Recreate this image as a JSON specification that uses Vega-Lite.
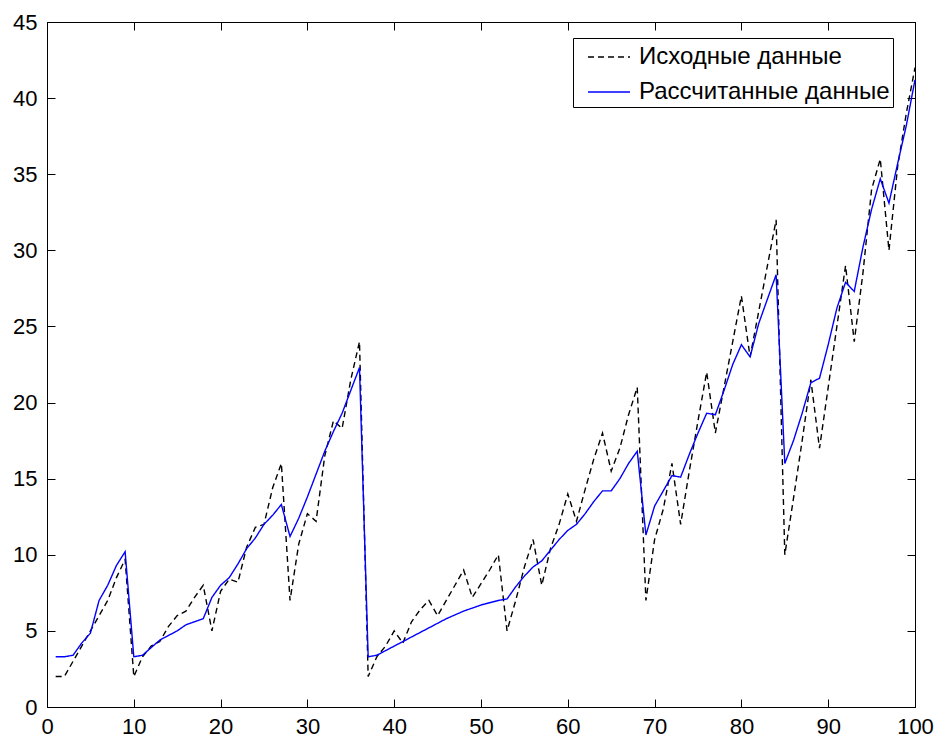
{
  "$schema": "https://vega.github.io/schema/vega-lite/v6.json",
  "width": 868,
  "height": 685,
  "autosize": {"type": "none"},
  "padding": {"left": 47, "top": 22, "right": 25, "bottom": 35},
  "background": "white",
  "config": {
    "view": {"stroke": "black", "strokeWidth": 1},
    "axis": {
      "domainColor": "black", "domainWidth": 1, "tickColor": "black", "tickWidth": 1,
      "tickSize": -8, "labelColor": "black", "labelFont": "Liberation Sans", "labelFontSize": 22,
      "grid": false, "title": null, "labelFlush": false, "labelOverlap": false
    },
    "legend": {
      "title": null, "orient": "none", "legendX": 526, "legendY": 16,
      "strokeColor": "black", "fillColor": "white", "padding": 3,
      "symbolType": "M-1.4,0H1.4", "symbolSize": 900, "symbolStrokeWidth": 1.4, "symbolOffset": 17,
      "labelFont": "Liberation Sans", "labelFontSize": 24, "labelColor": "black", "labelLimit": 0,
      "labelOffset": 14, "rowPadding": 7, "cornerRadius": 0
    }
  },
  "data": {"values": [
    {"x":1,"y":2,"s":"Исходные данные"},{"x":2,"y":2,"s":"Исходные данные"},{"x":3,"y":3,"s":"Исходные данные"},{"x":4,"y":4,"s":"Исходные данные"},{"x":5,"y":5,"s":"Исходные данные"},
    {"x":6,"y":6,"s":"Исходные данные"},{"x":7,"y":7,"s":"Исходные данные"},{"x":8,"y":8.5,"s":"Исходные данные"},{"x":9,"y":9.7,"s":"Исходные данные"},{"x":10,"y":2,"s":"Исходные данные"},
    {"x":11,"y":3.3,"s":"Исходные данные"},{"x":12,"y":4,"s":"Исходные данные"},{"x":13,"y":4.3,"s":"Исходные данные"},{"x":14,"y":5.3,"s":"Исходные данные"},{"x":15,"y":6,"s":"Исходные данные"},
    {"x":16,"y":6.3,"s":"Исходные данные"},{"x":17,"y":7.2,"s":"Исходные данные"},{"x":18,"y":8,"s":"Исходные данные"},{"x":19,"y":5,"s":"Исходные данные"},{"x":20,"y":7.6,"s":"Исходные данные"},
    {"x":21,"y":8.4,"s":"Исходные данные"},{"x":22,"y":8.2,"s":"Исходные данные"},{"x":23,"y":10.5,"s":"Исходные данные"},{"x":24,"y":11.8,"s":"Исходные данные"},{"x":25,"y":12,"s":"Исходные данные"},
    {"x":26,"y":14.4,"s":"Исходные данные"},{"x":27,"y":16,"s":"Исходные данные"},{"x":28,"y":7,"s":"Исходные данные"},{"x":29,"y":10.7,"s":"Исходные данные"},{"x":30,"y":12.7,"s":"Исходные данные"},
    {"x":31,"y":12.2,"s":"Исходные данные"},{"x":32,"y":16.5,"s":"Исходные данные"},{"x":33,"y":18.8,"s":"Исходные данные"},{"x":34,"y":18.3,"s":"Исходные данные"},{"x":35,"y":21.5,"s":"Исходные данные"},
    {"x":36,"y":24,"s":"Исходные данные"},{"x":37,"y":2,"s":"Исходные данные"},{"x":38,"y":3.3,"s":"Исходные данные"},{"x":39,"y":4,"s":"Исходные данные"},{"x":40,"y":5,"s":"Исходные данные"},
    {"x":41,"y":4.2,"s":"Исходные данные"},{"x":42,"y":5.6,"s":"Исходные данные"},{"x":43,"y":6.4,"s":"Исходные данные"},{"x":44,"y":7,"s":"Исходные данные"},{"x":45,"y":6,"s":"Исходные данные"},
    {"x":46,"y":7,"s":"Исходные данные"},{"x":47,"y":8,"s":"Исходные данные"},{"x":48,"y":9,"s":"Исходные данные"},{"x":49,"y":7.2,"s":"Исходные данные"},{"x":50,"y":8.1,"s":"Исходные данные"},
    {"x":51,"y":9,"s":"Исходные данные"},{"x":52,"y":10,"s":"Исходные данные"},{"x":53,"y":5,"s":"Исходные данные"},{"x":54,"y":7,"s":"Исходные данные"},{"x":55,"y":9.2,"s":"Исходные данные"},
    {"x":56,"y":11,"s":"Исходные данные"},{"x":57,"y":8,"s":"Исходные данные"},{"x":58,"y":10.4,"s":"Исходные данные"},{"x":59,"y":12,"s":"Исходные данные"},{"x":60,"y":14,"s":"Исходные данные"},
    {"x":61,"y":12.2,"s":"Исходные данные"},{"x":62,"y":14.3,"s":"Исходные данные"},{"x":63,"y":16.3,"s":"Исходные данные"},{"x":64,"y":18,"s":"Исходные данные"},{"x":65,"y":15.5,"s":"Исходные данные"},
    {"x":66,"y":17,"s":"Исходные данные"},{"x":67,"y":19.2,"s":"Исходные данные"},{"x":68,"y":21,"s":"Исходные данные"},{"x":69,"y":7,"s":"Исходные данные"},{"x":70,"y":11,"s":"Исходные данные"},
    {"x":71,"y":13,"s":"Исходные данные"},{"x":72,"y":16,"s":"Исходные данные"},{"x":73,"y":12,"s":"Исходные данные"},{"x":74,"y":15.5,"s":"Исходные данные"},{"x":75,"y":18.8,"s":"Исходные данные"},
    {"x":76,"y":22,"s":"Исходные данные"},{"x":77,"y":18,"s":"Исходные данные"},{"x":78,"y":21,"s":"Исходные данные"},{"x":79,"y":24,"s":"Исходные данные"},{"x":80,"y":27,"s":"Исходные данные"},
    {"x":81,"y":23,"s":"Исходные данные"},{"x":82,"y":26,"s":"Исходные данные"},{"x":83,"y":29,"s":"Исходные данные"},{"x":84,"y":32,"s":"Исходные данные"},{"x":85,"y":10,"s":"Исходные данные"},
    {"x":86,"y":13.7,"s":"Исходные данные"},{"x":87,"y":17.5,"s":"Исходные данные"},{"x":88,"y":21.5,"s":"Исходные данные"},{"x":89,"y":17,"s":"Исходные данные"},{"x":90,"y":21,"s":"Исходные данные"},
    {"x":91,"y":25,"s":"Исходные данные"},{"x":92,"y":29,"s":"Исходные данные"},{"x":93,"y":24,"s":"Исходные данные"},{"x":94,"y":28.5,"s":"Исходные данные"},{"x":95,"y":34,"s":"Исходные данные"},
    {"x":96,"y":36,"s":"Исходные данные"},{"x":97,"y":30,"s":"Исходные данные"},{"x":98,"y":35.5,"s":"Исходные данные"},{"x":99,"y":39,"s":"Исходные данные"},{"x":100,"y":42,"s":"Исходные данные"},
    {"x":1,"y":3.3,"s":"Рассчитанные данные"},{"x":2,"y":3.3,"s":"Рассчитанные данные"},{"x":3,"y":3.4,"s":"Рассчитанные данные"},{"x":4,"y":4.2,"s":"Рассчитанные данные"},{"x":5,"y":4.85,"s":"Рассчитанные данные"},
    {"x":6,"y":7,"s":"Рассчитанные данные"},{"x":7,"y":8,"s":"Рассчитанные данные"},{"x":8,"y":9.3,"s":"Рассчитанные данные"},{"x":9,"y":10.2,"s":"Рассчитанные данные"},{"x":10,"y":3.3,"s":"Рассчитанные данные"},
    {"x":11,"y":3.4,"s":"Рассчитанные данные"},{"x":12,"y":3.9,"s":"Рассчитанные данные"},{"x":13,"y":4.4,"s":"Рассчитанные данные"},{"x":14,"y":4.7,"s":"Рассчитанные данные"},{"x":15,"y":5,"s":"Рассчитанные данные"},
    {"x":16,"y":5.4,"s":"Рассчитанные данные"},{"x":17,"y":5.6,"s":"Рассчитанные данные"},{"x":18,"y":5.8,"s":"Рассчитанные данные"},{"x":19,"y":7.2,"s":"Рассчитанные данные"},{"x":20,"y":8,"s":"Рассчитанные данные"},
    {"x":21,"y":8.5,"s":"Рассчитанные данные"},{"x":22,"y":9.4,"s":"Рассчитанные данные"},{"x":23,"y":10.4,"s":"Рассчитанные данные"},{"x":24,"y":11.1,"s":"Рассчитанные данные"},{"x":25,"y":12,"s":"Рассчитанные данные"},
    {"x":26,"y":12.6,"s":"Рассчитанные данные"},{"x":27,"y":13.3,"s":"Рассчитанные данные"},{"x":28,"y":11.2,"s":"Рассчитанные данные"},{"x":29,"y":12.4,"s":"Рассчитанные данные"},{"x":30,"y":13.8,"s":"Рассчитанные данные"},
    {"x":31,"y":15.3,"s":"Рассчитанные данные"},{"x":32,"y":16.8,"s":"Рассчитанные данные"},{"x":33,"y":18.1,"s":"Рассчитанные данные"},{"x":34,"y":19.3,"s":"Рассчитанные данные"},{"x":35,"y":20.8,"s":"Рассчитанные данные"},
    {"x":36,"y":22.3,"s":"Рассчитанные данные"},{"x":37,"y":3.3,"s":"Рассчитанные данные"},{"x":38,"y":3.4,"s":"Рассчитанные данные"},{"x":39,"y":3.7,"s":"Рассчитанные данные"},{"x":40,"y":4,"s":"Рассчитанные данные"},
    {"x":41,"y":4.3,"s":"Рассчитанные данные"},{"x":42,"y":4.6,"s":"Рассчитанные данные"},{"x":43,"y":4.9,"s":"Рассчитанные данные"},{"x":44,"y":5.2,"s":"Рассчитанные данные"},{"x":45,"y":5.5,"s":"Рассчитанные данные"},
    {"x":46,"y":5.8,"s":"Рассчитанные данные"},{"x":47,"y":6.05,"s":"Рассчитанные данные"},{"x":48,"y":6.3,"s":"Рассчитанные данные"},{"x":49,"y":6.5,"s":"Рассчитанные данные"},{"x":50,"y":6.7,"s":"Рассчитанные данные"},
    {"x":51,"y":6.85,"s":"Рассчитанные данные"},{"x":52,"y":7,"s":"Рассчитанные данные"},{"x":53,"y":7.1,"s":"Рассчитанные данные"},{"x":54,"y":7.9,"s":"Рассчитанные данные"},{"x":55,"y":8.6,"s":"Рассчитанные данные"},
    {"x":56,"y":9.2,"s":"Рассчитанные данные"},{"x":57,"y":9.6,"s":"Рассчитанные данные"},{"x":58,"y":10.3,"s":"Рассчитанные данные"},{"x":59,"y":11,"s":"Рассчитанные данные"},{"x":60,"y":11.6,"s":"Рассчитанные данные"},
    {"x":61,"y":12,"s":"Рассчитанные данные"},{"x":62,"y":12.7,"s":"Рассчитанные данные"},{"x":63,"y":13.5,"s":"Рассчитанные данные"},{"x":64,"y":14.2,"s":"Рассчитанные данные"},{"x":65,"y":14.2,"s":"Рассчитанные данные"},
    {"x":66,"y":15,"s":"Рассчитанные данные"},{"x":67,"y":16,"s":"Рассчитанные данные"},{"x":68,"y":16.8,"s":"Рассчитанные данные"},{"x":69,"y":11.3,"s":"Рассчитанные данные"},{"x":70,"y":13.2,"s":"Рассчитанные данные"},
    {"x":71,"y":14.2,"s":"Рассчитанные данные"},{"x":72,"y":15.2,"s":"Рассчитанные данные"},{"x":73,"y":15.1,"s":"Рассчитанные данные"},{"x":74,"y":16.6,"s":"Рассчитанные данные"},{"x":75,"y":18,"s":"Рассчитанные данные"},
    {"x":76,"y":19.3,"s":"Рассчитанные данные"},{"x":77,"y":19.2,"s":"Рассчитанные данные"},{"x":78,"y":20.8,"s":"Рассчитанные данные"},{"x":79,"y":22.5,"s":"Рассчитанные данные"},{"x":80,"y":23.8,"s":"Рассчитанные данные"},
    {"x":81,"y":23,"s":"Рассчитанные данные"},{"x":82,"y":25.2,"s":"Рассчитанные данные"},{"x":83,"y":26.8,"s":"Рассчитанные данные"},{"x":84,"y":28.4,"s":"Рассчитанные данные"},{"x":85,"y":16,"s":"Рассчитанные данные"},
    {"x":86,"y":17.5,"s":"Рассчитанные данные"},{"x":87,"y":19.3,"s":"Рассчитанные данные"},{"x":88,"y":21.3,"s":"Рассчитанные данные"},{"x":89,"y":21.6,"s":"Рассчитанные данные"},{"x":90,"y":23.8,"s":"Рассчитанные данные"},
    {"x":91,"y":26.2,"s":"Рассчитанные данные"},{"x":92,"y":27.9,"s":"Рассчитанные данные"},{"x":93,"y":27.3,"s":"Рассчитанные данные"},{"x":94,"y":30.2,"s":"Рассчитанные данные"},{"x":95,"y":32.7,"s":"Рассчитанные данные"},
    {"x":96,"y":34.7,"s":"Рассчитанные данные"},{"x":97,"y":33.1,"s":"Рассчитанные данные"},{"x":98,"y":35.7,"s":"Рассчитанные данные"},{"x":99,"y":38.2,"s":"Рассчитанные данные"},{"x":100,"y":41.2,"s":"Рассчитанные данные"}
  ]},
  "layer": [
    {
      "mark": {"type": "line", "strokeWidth": 1.4},
      "encoding": {
        "x": {"field": "x", "type": "quantitative", "scale": {"domain": [0, 100], "nice": false, "zero": false},
              "axis": {"orient": "bottom", "values": [0,10,20,30,40,50,60,70,80,90,100], "labelPadding": 17}},
        "y": {"field": "y", "type": "quantitative", "scale": {"domain": [0, 45], "nice": false},
              "axis": {"orient": "left", "values": [0,5,10,15,20,25,30,35,40,45], "labelPadding": 18}},
        "color": {"field": "s", "type": "nominal",
                  "scale": {"domain": ["Исходные данные", "Рассчитанные данные"], "range": ["#000000", "#0000ff"]}},
        "strokeDash": {"field": "s", "type": "nominal",
                       "scale": {"domain": ["Исходные данные", "Рассчитанные данные"], "range": [[6, 4], [1, 0]]}}
      }
    },
    {
      "mark": {"type": "line", "opacity": 0},
      "encoding": {
        "x": {"field": "x", "type": "quantitative", "scale": {"domain": [0, 100], "nice": false, "zero": false},
              "axis": {"orient": "top", "values": [0,10,20,30,40,50,60,70,80,90,100], "labels": false}},
        "y": {"field": "y", "type": "quantitative", "scale": {"domain": [0, 45], "nice": false},
              "axis": {"orient": "right", "values": [0,5,10,15,20,25,30,35,40,45], "labels": false}},
        "detail": {"field": "s", "type": "nominal"}
      }
    }
  ],
  "resolve": {"axis": {"x": "independent", "y": "independent"}}
}
